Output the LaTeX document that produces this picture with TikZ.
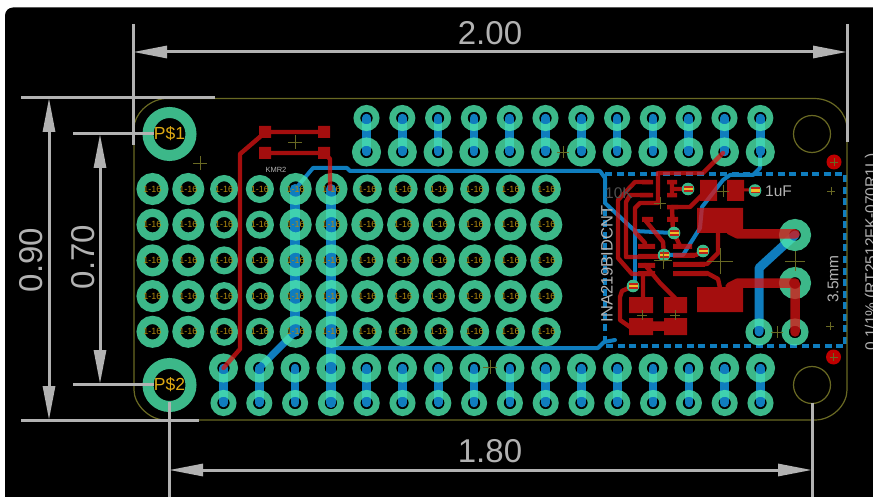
\documentclass[tikz,border=0pt]{standalone}
\usepackage{fontspec}
\setmainfont{Liberation Sans}
\usetikzlibrary{arrows.meta}
\definecolor{pcbblue}{RGB}{15,125,190}
\definecolor{pcbred}{RGB}{220,20,20}
\definecolor{pcbring}{RGB}{75,231,172}
\definecolor{pcbolive}{RGB}{105,105,35}
\definecolor{dimgrey}{RGB}{178,178,178}
\definecolor{pcbgold}{RGB}{176,138,16}
\definecolor{viagreen}{RGB}{60,185,138}
\definecolor{viared}{RGB}{190,35,25}
\definecolor{viayellow}{RGB}{240,190,40}
\definecolor{mountgold}{RGB}{222,170,20}
\newcommand{\ringpad}[4]{\draw[pcbring,draw opacity=.8,line width={#3-#4}] (#1,#2) circle[radius={(#3+#4)/2}];}
\newcommand{\viapad}[2]{\fill[viagreen] (#1,#2) circle[radius=6.3];
  \fill[viared] (#1-4.5,#2-3) rectangle (#1+4.5,#2+3);
  \fill[viayellow] (#1-4.5,#2-1.2) rectangle (#1+4.5,#2+1.2);}
\newcommand{\pluss}[3]{\draw[pcbolive,line width=.9] (#1-#3,#2) -- (#1+#3,#2) (#1,#2-#3) -- (#1,#2+#3);}
\tikzset{
  dimline/.style={dimgrey,line width=3},
  dimarrow/.style={dimline,{Triangle[length=34pt,width=12pt]}-{Triangle[length=34pt,width=12pt]}},
  dimtext/.style={text=dimgrey,font=\fontsize{33}{33}\selectfont,inner sep=0},
  silktext/.style={text=dimgrey,font=\fontsize{15.5}{15.5}\selectfont,inner sep=0},
  bluetrace/.style={pcbblue,line width=4,line cap=round,line join=round},
  bluewide/.style={pcbblue,line width=8.5,line cap=round,line join=round},
  redtrace/.style={draw=pcbred,line width=4.4,line cap=round,line join=round},
  redwide/.style={draw=pcbred,line width=9.5,line cap=round,line join=round},
  padtext/.style={text=pcbgold,font=\fontsize{9}{9}\selectfont,inner sep=0},
  mounttext/.style={text=mountgold,font=\fontsize{17.5}{17.5}\selectfont,inner sep=0},
}
\begin{document}
\begin{tikzpicture}[x=1pt,y=-1pt]
\useasboundingbox (0,0) rectangle (873,497);
\fill[white] (0,0) rectangle (873,497);
\fill[black,rounded corners=8pt] (5,7.5) rectangle (900,520);

% blue layer
\foreach \i in {0,...,11} {
  \pgfmathsetmacro{\xx}{366.5+35.8*\i}
  \draw[bluewide] (\xx,118) -- (\xx,152);
}
\foreach \i in {0,...,15} {
  \pgfmathsetmacro{\xx}{223.5+35.8*\i}
  \draw[bluewide] (\xx,368) -- (\xx,403);
}
\draw[bluewide,line width=10] (295,189) -- (295,332);
\draw[bluewide,line width=10] (331,189) -- (331,403);
\draw[pcbblue,line width=7,line cap=round] (295,332) -- (259.3,368);
\draw[bluetrace] (297,187) -- (313,168) -- (347,168) -- (350,171) -- (600,171) -- (605,178) -- (605,203) -- (635,231) -- (673,233);
\draw[bluetrace] (635,231) -- (635,286);
\draw[bluetrace] (331,348) -- (598,348) -- (604,342) -- (615,340);
\draw[bluetrace] (760,153) -- (760,168) -- (753,175) -- (730,175) -- (723,180) -- (702,207) -- (700,228) -- (683,255) -- (664,255);
\draw[pcbblue,line width=9,line join=round,line cap=round] (759,332) -- (759,268) -- (795,235);
\draw[pcbblue,line width=4,dash pattern=on 7pt off 4.5pt] (605,174) -- (845,174) -- (845,346) -- (605,346) -- cycle;

% pads
\foreach \i in {0,...,11} {
  \pgfmathsetmacro{\xx}{366.5+35.8*\i}
  \ringpad{\xx}{118}{13}{6.3}
  \ringpad{\xx}{152}{14.5}{6.3}
}
\foreach \i in {0,...,15} {
  \pgfmathsetmacro{\xx}{223.5+35.8*\i}
  \ringpad{\xx}{368}{14.5}{6.3}
  \ringpad{\xx}{403}{13}{6.3}
}
\foreach \c in {0,...,11} {
  \foreach \r in {0,...,4} {
    \pgfmathsetmacro{\xx}{152.5+35.8*\c}
    \pgfmathsetmacro{\yy}{189+35.7*\r}
    \pgfmathsetmacro{\rad}{(\c<2 || \c==4 || \c==5) ? 16 : ((\c<4) ? 14 : ((\r==0 || \r==4) ? 14.5 : 16))}
    \ringpad{\xx}{\yy}{\rad}{7.8}
    \node[padtext] at (\xx,\yy) {1-16};
  }
}
\ringpad{169.5}{134}{27}{16}
\ringpad{169.5}{385}{27}{16}
\ringpad{759}{332}{13.5}{6.3}
\ringpad{795}{332}{13.5}{6.3}
\ringpad{795}{235}{16}{6}
\ringpad{795}{283}{16}{6}

% red layer
\begin{scope}[transparency group,opacity=.75]
\fill[pcbred] (259,126) rectangle (271,138) (318,126) rectangle (330,138);
\fill[pcbred] (259,147) rectangle (271,159) (318,147) rectangle (330,159);
\draw[redtrace] (265,132) -- (324,132);
\draw[redtrace] (265,153) -- (324,153);
\draw[redtrace] (261,136) -- (240,154) -- (240,349) -- (223.5,368);
\draw[redtrace] (326,155) -- (330,159) -- (330,189);
\fill[pcbred] (700,180) rectangle (717,201) (727,180) rectangle (744,201);
\fill[pcbred] (697,208) rectangle (743,233) (697,287) rectangle (743,312);
\fill[pcbred] (629,297) rectangle (653,313) (664,297) rectangle (687,313);
\fill[pcbred] (629,318) rectangle (653,335) (664,318) rectangle (687,335);
\draw[redwide,line cap=butt] (653,326) -- (664,326);
\draw[redtrace,line width=3] (744,190) -- (755,190);
\draw[redwide] (730,230) -- (738,234) -- (795,234);
\draw[redwide] (730,287) -- (738,283) -- (795,283) -- (795,332);
% small component pads
\fill[pcbred] (642,180) rectangle (653,184.5) (640,193) rectangle (653,197.5);
\fill[pcbred] (642,217) rectangle (653,222) (638,244) rectangle (655,249);
\fill[pcbred] (638,254) rectangle (660,259) (638,263) rectangle (655,268) (638,271) rectangle (655,276);
\fill[pcbred] (667,180) rectangle (677,184.5) (667,193) rectangle (677,197.5);
\fill[pcbred] (667,205) rectangle (678,209.5) (667,217) rectangle (678,222);
\fill[pcbred] (673,244) rectangle (692,249) (673,253) rectangle (695,258);
\fill[pcbred] (673,262) rectangle (705,267) (673,271) rectangle (707,276);
% small traces
\draw[redtrace] (723,153) -- (703,173) -- (658,173) -- (658,203) -- (640,203) -- (635,208) -- (635,232) -- (645,243) -- (645,246);
\draw[redtrace] (650,182) -- (635,182) -- (618,200) -- (618,258) -- (632,274) -- (650,274);
\draw[redtrace] (650,195) -- (630,195) -- (626,202) -- (626,257) -- (640,257);
\draw[redtrace] (645,220) -- (663,242) -- (664,255);
\draw[redtrace] (672,182) -- (672,195);
\draw[redtrace] (672,189) -- (688,189);
\draw[redtrace] (672,207) -- (673,233);
\draw[redtrace] (672,207) -- (690,207) -- (702,195);
\draw[redtrace] (674,233) -- (680,246);
\draw[redtrace] (690,255) -- (696,255) -- (703,251);
\draw[redtrace] (700,264) -- (707,264) -- (718,253) -- (718,233);
\draw[redtrace] (700,273) -- (707,273) -- (718,279) -- (720,288);
\draw[redtrace] (643,274) -- (643,298);
\draw[redtrace] (645,265) -- (660,283) -- (675,298);
\draw[redtrace] (633,286) -- (622,291) -- (620,297) -- (620,320) -- (630,327);
\end{scope}

% vias
\viapad{688}{189}
\viapad{755}{190.5}
\viapad{674}{233}
\viapad{664}{255}
\viapad{703}{251}
\viapad{633}{286}
\fill[red!75!black] (834,162) circle[radius=7.5];
\fill[red!75!black] (833.5,357) circle[radius=7.5];

% outline
\draw[pcbolive,line width=1.2] (165,98.5) -- (815,98.5) .. controls (835,99) and (847,115) .. (847,128) -- (847,390) .. controls (847,405) and (832,420) .. (815,420) -- (165,420) .. controls (150,420) and (134,405) .. (134,390) -- (134,128) .. controls (134,115) and (148,100) .. (165,98.5) -- cycle;
\draw[pcbolive,line width=1.2] (812,134) circle[radius=18.5] (812,385) circle[radius=18.5];

% crosses
\pluss{200}{163}{7}
\pluss{295}{142}{7}
\pluss{563}{152}{6}
\pluss{490}{367}{7}
\pluss{660}{203}{6}
\pluss{723}{191}{6}
\pluss{831}{191}{4}
\pluss{663}{260}{9}
\pluss{720}{261}{13}
\pluss{795}{261}{10}
\pluss{642}{315}{5}
\pluss{675}{315}{5}
\pluss{777}{332}{6}
\pluss{830}{326}{4}
\pluss{834}{162}{4}
\pluss{833.5}{357}{4}

% texts on board
\node[mounttext] (pone) at (169.5,134) {P\$1};
\node[mounttext] (ptwo) at (169.5,385) {P\$2};
\node[silktext,font=\fontsize{7.5}{7.5}\selectfont] (kmr) at (276,170) {KMR2};
\node[silktext] (cap) at (778.5,191) {1uF};
\node[silktext,text=dimgrey!45!black] (res) at (619,193) {10K};
\node[silktext,rotate=90,font=\fontsize{16.5}{16.5}\selectfont] (ina) at (607,264) {INA219BIDCNT};
\node[silktext,rotate=90] (jack) at (833,279) {3.5mm};
\node[silktext,rotate=90,anchor=base west] (shunt) at (876,351) {0.1/1\% (RT2512FK-070R1L)};

% dimensions
\coordinate (ta) at (133,24); \coordinate (tb) at (133,145);
\coordinate (ua) at (847,24); \coordinate (ub) at (847,142);
\coordinate (tl) at (133,52); \coordinate (tr) at (847,52);
\draw[dimline] (ta) -- (tb);
\draw[dimline] (ua) -- (ub);
\draw[dimarrow] (tl) -- (tr);
\node[dimtext] (dtop) at (490,33.5) {2.00};

\coordinate (la) at (21,98); \coordinate (lb) at (215,98);
\coordinate (ma) at (21,420); \coordinate (mb) at (199,420);
\coordinate (lt) at (49,98); \coordinate (lu) at (49,420);
\draw[dimline] (la) -- (lb);
\draw[dimline] (ma) -- (mb);
\draw[dimarrow] (lt) -- (lu);
\node[dimtext,rotate=90] (dleft) at (31,260) {0.90};

\coordinate (na) at (73,134); \coordinate (nb) at (154,134);
\coordinate (oa) at (73,384); \coordinate (ob) at (154,384);
\coordinate (nt) at (100,134); \coordinate (nu) at (100,384);
\draw[dimline] (na) -- (nb);
\draw[dimline] (oa) -- (ob);
\draw[dimarrow] (nt) -- (nu);
\node[dimtext,rotate=90] (dmid) at (83,257) {0.70};

\coordinate (qa) at (169,402); \coordinate (qb) at (169,497);
\coordinate (ra) at (812,403); \coordinate (rb) at (812,497);
\coordinate (ql) at (169,470); \coordinate (qr) at (812,470);
\draw[dimline] (qa) -- (qb);
\draw[dimline] (ra) -- (rb);
\draw[dimarrow] (ql) -- (qr);
\node[dimtext] (dbot) at (490,451.5) {1.80};
\end{tikzpicture}
\end{document}
